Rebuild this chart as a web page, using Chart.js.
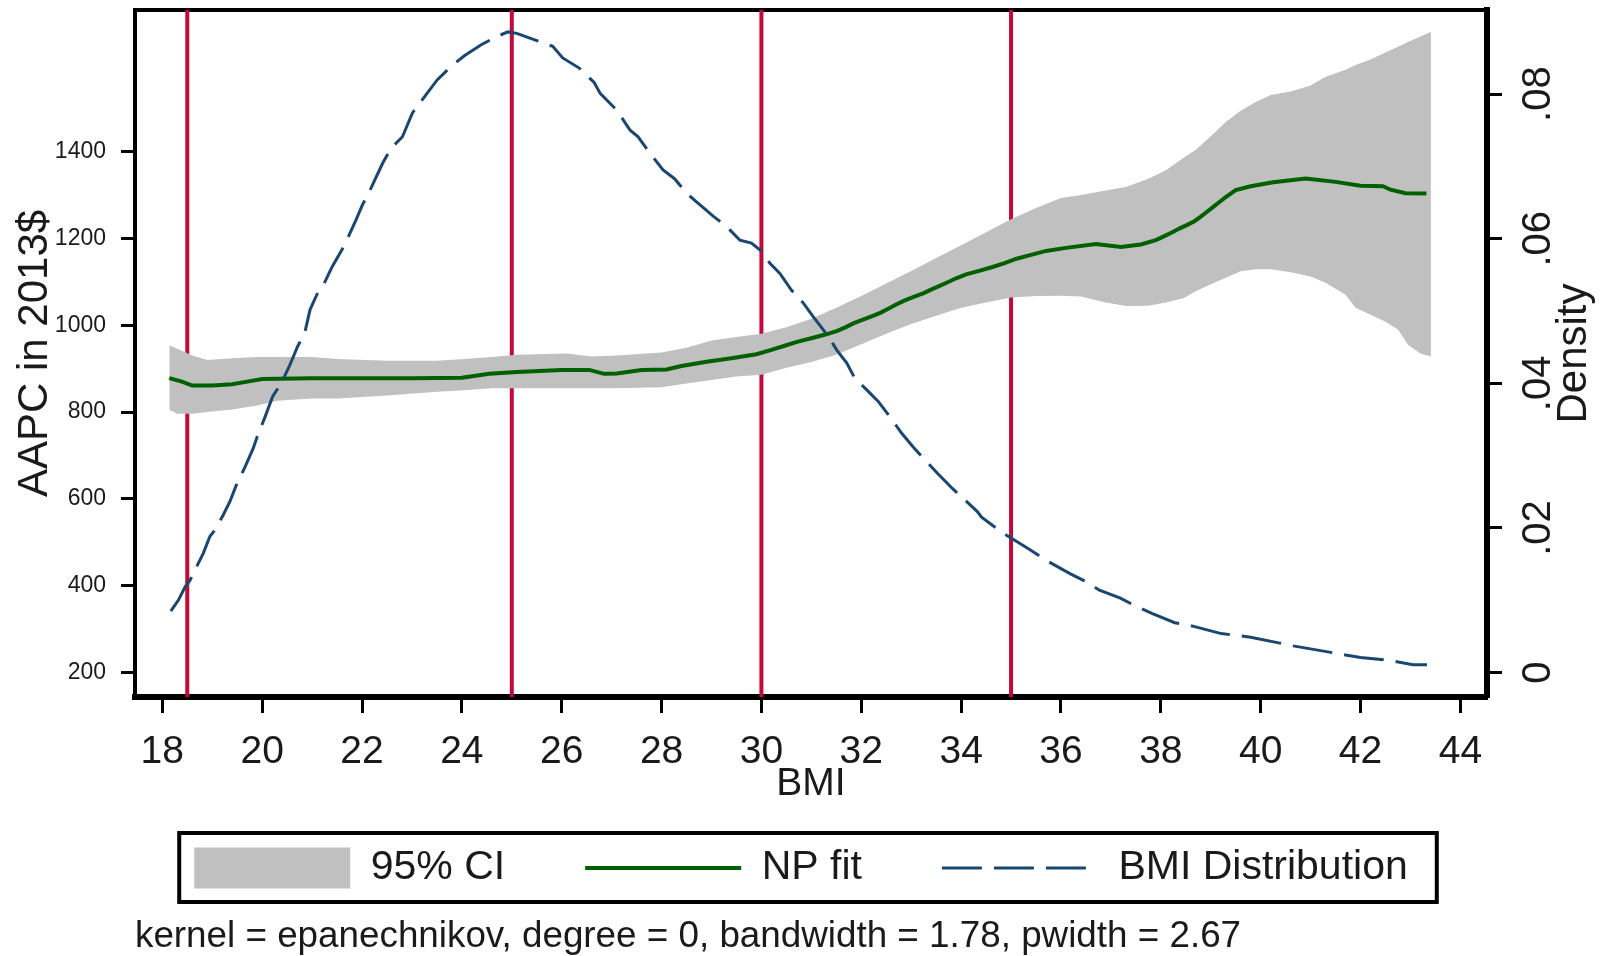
<!DOCTYPE html>
<html>
<head>
<meta charset="utf-8">
<script src="https://cdn.jsdelivr.net/npm/chart.js@4/dist/chart.umd.min.js"></script>
<style>
html,body{margin:0;padding:0;background:#fff;overflow:hidden}
canvas{display:block}
</style>
</head>
<body>
<canvas id="c" width="1602" height="956" style="width:1602px;height:956px"></canvas>
<script>
// ---------- data ----------
const xTicks = [18, 20, 22, 24, 26, 28, 30, 32, 34, 36, 38, 40, 42, 44];
const yTicks = [200, 400, 600, 800, 1000, 1200, 1400];
const yTickLabels = ['200', '400', '600', '800', '1000', '1200', '1400'];
const y2Ticks = [0, 0.02, 0.04, 0.06, 0.08];
const y2TickLabels = ['0', '.02', '.04', '.06', '.08'];

const xTitle = 'BMI';
const yTitle = 'AAPC in 2013$';
const y2Title = 'Density';
const footnote = 'kernel = epanechnikov, degree = 0, bandwidth = 1.78, pwidth = 2.67';

const cutoffs = [18.5, 25, 30, 35];

const fitX = [18.14, 18.39, 18.6, 19.0, 19.4, 19.7, 20.0, 21.0, 22.0, 23.0, 24.0, 24.55, 25.1, 26.0, 26.55, 26.85, 27.1, 27.6, 28.1, 28.4, 28.9, 29.4, 29.9, 30.2, 30.45, 30.73, 31.0, 31.3, 31.52, 31.68, 31.84, 32.02, 32.22, 32.39, 32.54, 32.69, 32.85, 33.05, 33.25, 33.42, 33.58, 33.73, 33.9, 34.1, 34.36, 34.63, 34.87, 35.11, 35.4, 35.7, 36.1, 36.7, 37.2, 37.6, 37.9, 38.07, 38.23, 38.38, 38.53, 38.68, 38.8, 38.9, 39.0, 39.1, 39.2, 39.3, 39.4, 39.5, 39.8, 40.25, 40.9, 41.5, 42.0, 42.45, 42.6, 42.9, 43.32];
const fitY = [878, 870, 861, 861, 864, 870, 876, 878, 878, 878, 879, 888, 892, 897, 897, 888, 889, 897, 898, 906, 916, 924, 933, 943, 952, 962, 970, 979, 987, 995, 1004, 1012, 1021, 1029, 1038, 1047, 1056, 1065, 1074, 1083, 1091, 1099, 1108, 1117, 1125, 1134, 1143, 1153, 1162, 1171, 1178, 1187, 1180, 1186, 1196, 1205, 1214, 1223, 1231, 1240, 1250, 1259, 1268, 1277, 1286, 1295, 1303, 1311, 1320, 1329, 1338, 1330, 1321, 1320, 1312, 1304, 1303];

const ciX = [18.14, 18.3, 18.6, 18.9, 19.4, 19.9, 20.3, 21.0, 21.5, 22.5, 23.5, 24.05, 24.6, 25.1, 26.1, 26.6, 27.1, 28.0, 28.5, 29.0, 29.5, 30.0, 30.5, 31.0, 31.5, 32.0, 32.5, 33.0, 33.5, 34.0, 34.5, 35.0, 35.5, 36.0, 36.4, 36.9, 37.3, 37.75, 38.1, 38.45, 38.7, 39.0, 39.3, 39.6, 39.9, 40.2, 40.6, 41.0, 41.3, 41.7, 41.9, 42.2, 42.5, 42.75, 42.95, 43.2, 43.41];
const ciUpper = [954, 946, 930, 920, 924, 927, 927, 927, 922, 918, 918, 922, 927, 932, 935, 928, 930, 937, 948, 965, 973, 980, 995, 1015, 1040, 1067, 1096, 1125, 1155, 1184, 1214, 1244, 1270, 1293, 1300, 1310, 1318, 1337, 1357, 1385, 1404, 1435, 1468, 1494, 1514, 1530, 1538, 1552, 1572, 1588, 1599, 1612, 1628, 1641, 1652, 1665, 1676];
const ciLower = [805, 796, 796, 800, 806, 815, 826, 831, 831, 838, 847, 850, 855, 855, 855, 855, 855, 857, 866, 874, 882, 886, 902, 915, 932, 956, 980, 1003, 1022, 1040, 1052, 1064, 1067, 1068, 1066, 1052, 1044, 1045, 1052, 1062, 1078, 1094, 1109, 1124, 1129, 1129, 1122, 1112, 1098, 1070, 1040, 1024, 1008, 990, 955, 935, 928];

const densX = [18.17, 18.32, 18.46, 18.55, 18.72, 18.82, 18.95, 19.04, 19.22, 19.35, 19.48, 19.66, 19.82, 19.9, 20.06, 20.21, 20.38, 20.54, 20.71, 20.85, 20.96, 21.11, 21.24, 21.4, 21.65, 21.88, 22.01, 22.18, 22.41, 22.58, 22.81, 23.01, 23.28, 23.51, 23.78, 24.05, 24.38, 24.68, 24.92, 25.1, 25.5, 25.82, 26.02, 26.35, 26.65, 26.77, 27.1, 27.37, 27.53, 27.77, 28.03, 28.26, 28.5, 28.7, 29.04, 29.3, 29.57, 29.8, 30.0, 30.17, 30.37, 30.6, 30.84, 31.04, 31.24, 31.34, 31.51, 31.71, 31.87, 32.11, 32.34, 32.57, 32.81, 33.04, 33.21, 33.52, 33.82, 34.07, 34.32, 34.41, 34.66, 34.91, 35.17, 35.38, 35.76, 36.18, 36.47, 36.77, 37.19, 37.44, 37.82, 38.28, 38.66, 39.21, 39.8, 40.65, 41.57, 42.0, 42.58, 43.05, 43.33];
const densY = [0.0085, 0.0100, 0.0119, 0.0127, 0.0151, 0.0165, 0.0188, 0.0196, 0.0218, 0.0236, 0.0259, 0.0285, 0.0310, 0.0326, 0.0354, 0.0382, 0.0400, 0.0423, 0.0451, 0.0469, 0.0502, 0.0525, 0.0538, 0.0561, 0.0591, 0.0626, 0.0647, 0.0670, 0.0704, 0.0725, 0.0741, 0.0774, 0.0799, 0.0820, 0.0838, 0.0853, 0.0868, 0.0879, 0.0886, 0.0884, 0.0874, 0.0866, 0.0850, 0.0836, 0.0816, 0.0801, 0.0778, 0.0750, 0.0741, 0.0718, 0.0695, 0.0683, 0.0663, 0.0651, 0.0631, 0.0617, 0.0598, 0.0594, 0.0583, 0.0566, 0.0552, 0.0529, 0.0511, 0.0492, 0.0474, 0.0465, 0.0446, 0.0428, 0.0407, 0.0391, 0.0375, 0.0354, 0.0331, 0.0312, 0.0299, 0.0276, 0.0255, 0.0239, 0.0223, 0.0215, 0.0202, 0.0190, 0.0179, 0.0170, 0.0153, 0.0137, 0.0127, 0.0114, 0.0103, 0.0094, 0.0082, 0.0069, 0.0064, 0.0054, 0.0049, 0.0037, 0.0026, 0.0021, 0.0017, 0.0011, 0.0011];

// axis ranges
const X_MIN = 17.453, X_MAX = 44.533;
const Y_MIN = 143.8, Y_MAX = 1725.8;
const Y2_MIN = -0.00337, Y2_MAX = 0.09163;

// ---------- style ----------
const FONT = "'Liberation Sans', Arial, Helvetica, sans-serif";
const TEXT = '#1a1a1a';
const RED = '#c20a3a';
const GRAY = '#c0c0c0';
const GREEN = '#006000';
const NAVY = '#1a476f';

const pts = (xs, ys) => xs.map((x, i) => ({x: x, y: ys[i]}));

const datasets = [];
cutoffs.forEach(c => datasets.push({
  label: 'cutoff', data: [{x: c, y: Y_MIN}, {x: c, y: Y_MAX}], yAxisID: 'y',
  borderColor: RED, borderWidth: 4, pointRadius: 0, fill: false, order: 4
}));
datasets.push({
  label: '95% CI', data: pts(ciX, ciUpper), yAxisID: 'y',
  borderColor: 'rgba(0,0,0,0)', borderWidth: 0, backgroundColor: GRAY,
  fill: '+1', pointRadius: 0, order: 3, legend: 'area'
});
datasets.push({
  label: 'CI lower', data: pts(ciX, ciLower), yAxisID: 'y',
  borderColor: 'rgba(0,0,0,0)', borderWidth: 0, fill: false, pointRadius: 0, order: 3
});
datasets.push({
  label: 'NP fit', data: pts(fitX, fitY), yAxisID: 'y',
  borderColor: GREEN, borderWidth: 4, pointRadius: 0, fill: false, order: 2, legend: 'line'
});
datasets.push({
  label: 'BMI Distribution', data: pts(densX, densY), yAxisID: 'y2',
  borderColor: NAVY, borderWidth: 3, borderDash: [40, 12], pointRadius: 0, fill: false, order: 1, legend: 'line'
});

const decorPlugin = {
  id: 'decor',
  beforeDraw(chart) {
    const c = chart.ctx;
    c.save(); c.fillStyle = '#fff'; c.fillRect(0, 0, chart.width, chart.height); c.restore();
  },
  afterDraw(chart) {
    const c = chart.ctx;
    const hb = chart.legend && chart.legend.legendHitBoxes;
    if (hb && hb.length) {
      const first = hb[0], last = hb[hb.length - 1];
      const cy = first.top + first.height / 2;
      const l = first.left - 15, r = last.left + last.width + 29;
      c.save(); c.strokeStyle = '#000'; c.lineWidth = 4;
      c.strokeRect(l, cy - 35, r - l, 69);
      c.restore();
    }
    const s = chart.scales.y2;
    const ca = chart.chartArea;
    c.save();
    c.translate(s.right - 28, (ca.top + ca.bottom) / 2);
    c.rotate(-Math.PI / 2);
    c.font = '42px ' + FONT;
    c.fillStyle = TEXT; c.textAlign = 'center'; c.textBaseline = 'middle';
    c.fillText(y2Title, 0, 0);
    c.restore();
  }
};

Chart.defaults.font.family = FONT;

new Chart(document.getElementById('c'), {
  type: 'line',
  data: { datasets: datasets },
  options: {
    responsive: false,
    maintainAspectRatio: false,
    animation: false,
    devicePixelRatio: 1,
    events: [],
    layout: { padding: { top: 10, left: 0, right: 0, bottom: 0 } },
    plugins: {
      tooltip: { enabled: false },
      title: { display: false },
      legend: {
        display: true, position: 'bottom', align: 'center',
        labels: {
          usePointStyle: true, pointStyleWidth: 156, boxHeight: 43, padding: 80,
          font: { family: FONT, size: 41 }, color: TEXT,
          generateLabels: chart => chart.data.datasets
            .map((ds, i) => ({ds, i}))
            .filter(o => o.ds.legend)
            .map(({ds, i}) => {
              const area = ds.legend === 'area';
              return {
                text: ds.label, datasetIndex: i, hidden: false, fontColor: TEXT,
                fillStyle: area ? ds.backgroundColor : 'rgba(0,0,0,0)',
                strokeStyle: area ? ds.backgroundColor : ds.borderColor,
                lineWidth: area ? 0 : ds.borderWidth,
                lineDash: ds.borderDash || [],
                pointStyle: area ? 'rect' : 'line'
              };
            })
        }
      },
      subtitle: {
        display: true, position: 'bottom', align: 'start', fullSize: false,
        text: footnote, color: TEXT,
        font: { family: FONT, size: 36.8, lineHeight: '38px', weight: 'normal' },
        padding: { top: 19.5, bottom: 0 }
      }
    },
    scales: {
      x: {
        type: 'linear', position: 'bottom', min: X_MIN, max: X_MAX,
        afterBuildTicks: s => { s.ticks = xTicks.map(v => ({value: v})); },
        afterFit: s => { s.height = 70.5; s.paddingLeft = 0; s.paddingRight = 0; },
        ticks: { font: { family: FONT, size: 39 }, color: TEXT, padding: 15.5, maxRotation: 0, autoSkip: false,
                 callback: (v, i) => String(xTicks[i]) },
        grid: { display: true, drawOnChartArea: false, drawTicks: true, tickLength: 16, tickWidth: 3, tickColor: '#000' },
        border: { display: true, color: '#000', width: 6 },
        title: { display: true, text: xTitle, color: TEXT, font: { family: FONT, size: 39, lineHeight: 1.2 },
                 padding: { top: 0, bottom: -39.9 } }
      },
      xTop: {
        type: 'linear', position: 'top', min: X_MIN, max: X_MAX,
        ticks: { display: false },
        grid: { display: true, drawOnChartArea: false, drawTicks: false },
        border: { display: true, color: '#000', width: 4 },
        afterFit: s => { s.height = 0; s.paddingLeft = 0; s.paddingRight = 0; }
      },
      y: {
        type: 'linear', position: 'left', min: Y_MIN, max: Y_MAX,
        afterBuildTicks: s => { s.ticks = yTicks.map(v => ({value: v})); },
        afterFit: s => { s.width = 135; s.paddingTop = 0; s.paddingBottom = 0; },
        ticks: { font: { family: FONT, size: 23, lineHeight: 0.8 }, color: TEXT, padding: 15,
                 callback: (v, i) => yTickLabels[i] },
        grid: { display: true, drawOnChartArea: false, drawTicks: true, tickLength: 14, tickWidth: 3, tickColor: '#000' },
        border: { display: true, color: '#000', width: 4 },
        title: { display: true, text: yTitle, color: TEXT, font: { family: FONT, size: 42, lineHeight: 1.2 },
                 padding: { top: 10, bottom: 0 } }
      },
      y2: {
        type: 'linear', position: 'right', min: Y2_MIN, max: Y2_MAX,
        afterBuildTicks: s => { s.ticks = y2Ticks.map(v => ({value: v})); },
        afterFit: s => { s.width = 115; s.paddingTop = 0; s.paddingBottom = 0; },
        ticks: { font: { family: FONT, size: 40, lineHeight: 0.5 }, color: TEXT, padding: 9,
                 minRotation: 90, maxRotation: 90, crossAlign: 'center',
                 callback: (v, i) => y2TickLabels[i] },
        grid: { display: true, drawOnChartArea: false, drawTicks: true, tickLength: 15, tickWidth: 3, tickColor: '#000' },
        border: { display: true, color: '#000', width: 6 }
      }
    }
  },
  plugins: [decorPlugin]
});
</script>
</body>
</html>
